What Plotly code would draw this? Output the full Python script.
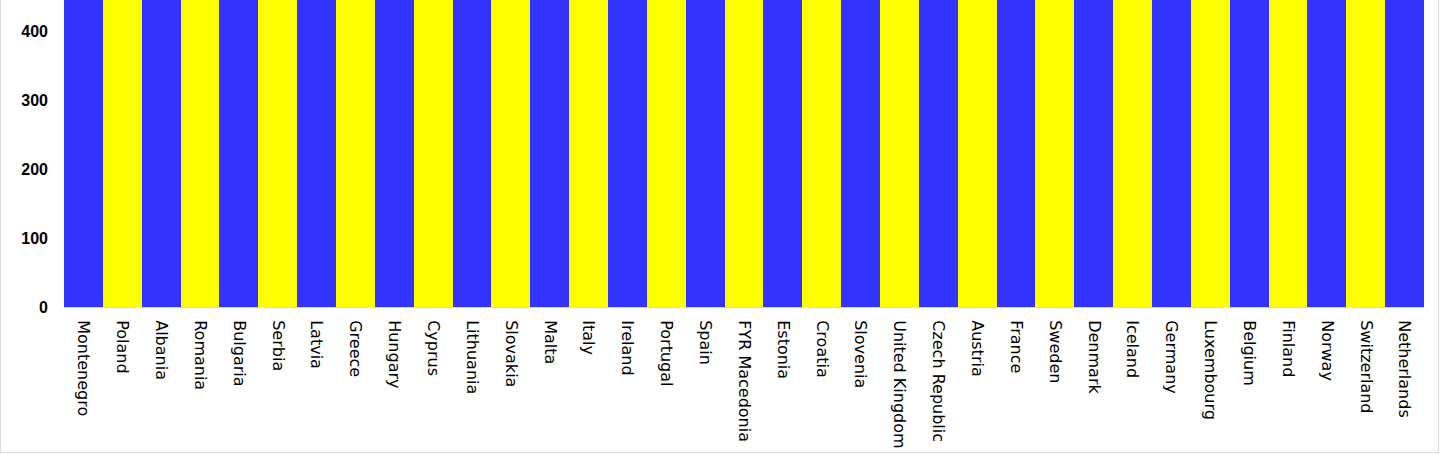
import plotly.graph_objects as go

countries = ["Montenegro", "Poland", "Albania", "Romania", "Bulgaria", "Serbia", "Latvia",
             "Greece", "Hungary", "Cyprus", "Lithuania", "Slovakia", "Malta", "Italy",
             "Ireland", "Portugal", "Spain", "FYR Macedonia", "Estonia", "Croatia",
             "Slovenia", "United Kingdom", "Czech Republic", "Austria", "France", "Sweden",
             "Denmark", "Iceland", "Germany", "Luxembourg", "Belgium", "Finland", "Norway",
             "Switzerland", "Netherlands"]
# All bars run past the top of the visible axis (clipped); exact heights not readable.
values = [1000] * len(countries)
colors = ["#3333FF" if i % 2 == 0 else "#FFFF00" for i in range(len(countries))]

W, H = 1440, 455
L, R, T, B = 64, 16, 0, 148
pw, ph = W - L - R, H - T - B

fig = go.Figure(go.Bar(x=countries, y=values, marker=dict(color=colors, line=dict(width=0))))

fig.update_layout(
    width=W, height=H,
    margin=dict(l=L, r=R, t=T, b=B),
    paper_bgcolor="white", plot_bgcolor="white",
    bargap=0, showlegend=False,
    xaxis=dict(tickangle=90, tickfont=dict(family="DejaVu Sans", size=16, color="black"),
               showline=True, linecolor="#d9d9d9", linewidth=1, showgrid=False,
               ticks="", ticklabelstandoff=9),
    yaxis=dict(range=[0, 445], tickvals=[0, 100, 200, 300, 400],
               tickfont=dict(family="Liberation Sans", size=16, color="black", weight="bold"),
               showgrid=False, zeroline=False, showline=False, ticks="",
               ticklabelstandoff=15),
    shapes=[dict(type="rect", xref="paper", yref="paper",
                 x0=(0.5 - L) / pw, x1=(W - 1.5 - L) / pw,
                 y0=-(B - 2.5) / ph, y1=(ph + 2) / ph,
                 line=dict(color="#d9d9d9", width=1), fillcolor="rgba(0,0,0,0)", layer="above")],
)

fig.write_html("out.html", config={"displayModeBar": False},
               post_script="document.body.style.margin='0';document.body.style.overflow='hidden';")
